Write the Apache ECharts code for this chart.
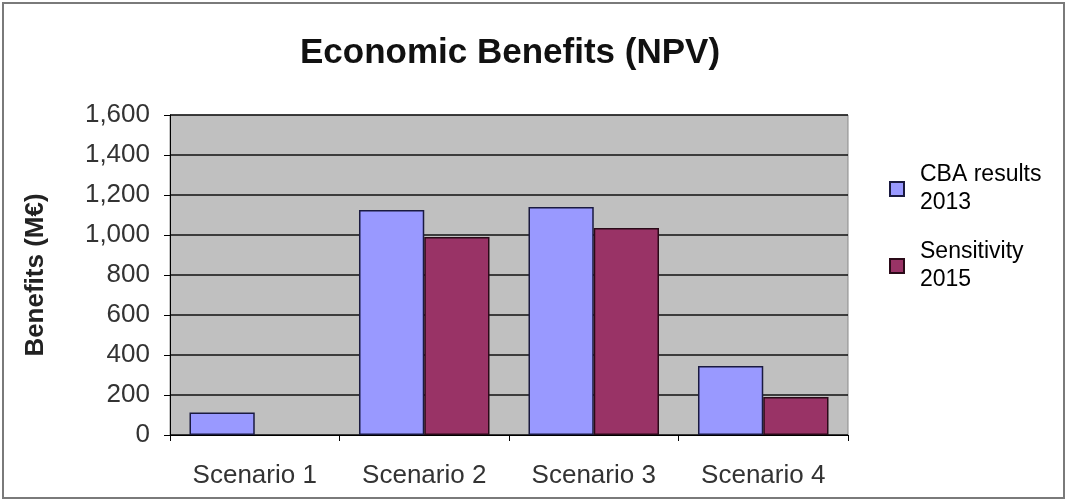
<!DOCTYPE html>
<html>
<head>
<meta charset="utf-8">
<script src="https://cdn.jsdelivr.net/npm/echarts@6/dist/echarts.min.js"></script>
<style>
  html, body { margin: 0; padding: 0; background: #fff; }
  #chart { width: 1068px; height: 502px; }
</style>
</head>
<body>
<div id="chart"></div>
<script>
// Categories and series values (NPV benefits, M€)
const categories = ['Scenario 1', 'Scenario 2', 'Scenario 3', 'Scenario 4'];
const cba2013 = [112, 1125, 1140, 345];
const sensitivity2015 = [null, 990, 1035, 190];
const seriesNames = ['CBA results\n2013', 'Sensitivity\n2015'];

const FONT = '"Liberation Sans", Arial, sans-serif';

const chart = echarts.init(document.getElementById('chart'), null, { renderer: 'canvas' });

const legendBase = {
  orient: 'vertical',
  left: 889,
  padding: 0,
  itemWidth: 14,
  itemHeight: 14,
  icon: 'rect'
};

chart.setOption({
  backgroundColor: '#ffffff',
  animation: false,
  title: {
    text: 'Economic Benefits (NPV)',
    left: 505,
    top: 31,
    textAlign: 'center',
    textStyle: { fontFamily: FONT, fontSize: 35, fontWeight: 'bold', color: '#111' }
  },
  graphic: [
    {
      type: 'rect',
      shape: { x: 3, y: 3, width: 1061, height: 495 },
      style: { fill: 'none', stroke: '#7a7a7a', lineWidth: 2 },
      silent: true
    }
  ],
  legend: [
    Object.assign({}, legendBase, {
      top: 161,
      data: [seriesNames[0]],
      textStyle: { fontFamily: FONT, fontSize: 23, color: '#000', lineHeight: 28, padding: [0, 0, 0, 11] }
    }),
    Object.assign({}, legendBase, {
      top: 229,
      data: [seriesNames[1]],
      textStyle: { fontFamily: FONT, fontSize: 23, color: '#000', lineHeight: 28, padding: [18, 0, 0, 11] }
    })
  ],
  grid: {
    left: 170,
    right: 220,
    top: 115,
    bottom: 67,
    show: true,
    backgroundColor: '#c0c0c0',
    borderColor: '#8a8a8a',
    borderWidth: 1
  },
  xAxis: {
    type: 'category',
    data: categories,
    axisLine: { lineStyle: { color: '#000', width: 1 } },
    axisTick: { show: true, alignWithLabel: false, length: 6, lineStyle: { color: '#000' } },
    axisLabel: { fontFamily: FONT, fontSize: 26, color: '#333', margin: 28 },
    splitLine: { show: false }
  },
  yAxis: {
    type: 'value',
    min: 0,
    max: 1600,
    interval: 200,
    name: 'Benefits (M€)',
    nameLocation: 'middle',
    nameGap: 121,
    nameTextStyle: { fontFamily: FONT, fontSize: 26, fontWeight: 'bold', color: '#222' },
    axisLine: { show: true, lineStyle: { color: '#000', width: 1 } },
    axisTick: { show: true, length: 6, lineStyle: { color: '#000' } },
    axisLabel: {
      fontFamily: FONT, fontSize: 26, color: '#333', margin: 20,
      formatter: v => v.toLocaleString('en-US')
    },
    splitLine: { show: true, lineStyle: { color: '#111', width: 1.5 } }
  },
  series: [
    {
      name: seriesNames[0],
      type: 'bar',
      data: cba2013,
      barGap: '0%',
      barCategoryGap: '23%',
      itemStyle: { color: '#9999ff', borderColor: '#1a1a40', borderWidth: 1.5 }
    },
    {
      name: seriesNames[1],
      type: 'bar',
      data: sensitivity2015,
      itemStyle: { color: '#993366', borderColor: '#2a0a18', borderWidth: 1.5 }
    }
  ]
});
</script>
</body>
</html>
